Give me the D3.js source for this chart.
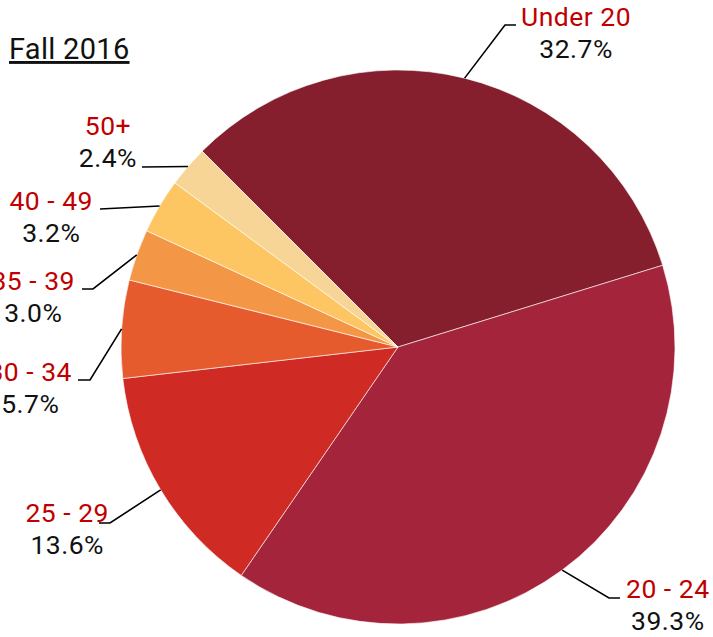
<!DOCTYPE html>
<html>
<head>
<meta charset="utf-8">
<script src="https://cdn.jsdelivr.net/npm/d3@7"></script>
<style>
  body { margin: 0; background: #fff; }
  svg { display: block; font-family: Roboto, "Liberation Sans", sans-serif; }
</style>
</head>
<body>
<div id="chart"></div>
<script>

// data
var ageGroups = ['Under 20', '20 - 24', '25 - 29', '30 - 34', '35 - 39', '40 - 49', '50+']
var shares = [32.7, 39.3, 13.6, 5.7, 3.0, 3.2, 2.4]
var sliceColors = ['#851f2e', '#a4243b', '#cf2a24', '#e65b2e', '#f39646', '#fec663', '#f7d596']

// label placement (layout only): elbow point, line end, text edge, label baseline
var labelLayout = [
  { elbow: [505, 25], end: [516, 25], textX: 521, base: 26, side: 'right' },
  { elbow: [609, 598], end: [620, 598], textX: 626, base: 598, side: 'right' },
  { elbow: [110, 523], end: [99, 523], textX: 109, base: 522, side: 'left' },
  { elbow: [90, 380], end: [78, 380], textX: 72, base: 381, side: 'left' },
  { elbow: [93, 289], end: [82, 289], textX: 75, base: 290, side: 'left' },
  { elbow: [100, 209], end: [100, 209], textX: 93, base: 210, side: 'left' },
  { elbow: [142, 167], end: [142, 167], textX: 137, base: 135, side: 'left' }
]

var width = 713
var height = 637
var cx = 398
var cy = 347
var radius = 277

var svg = d3.select('#chart')
  .append('svg')
  .attr('width', width)
  .attr('height', height)

// title
svg.append('text')
  .attr('x', 9)
  .attr('y', 59)
  .attr('font-size', 29)
  .attr('letter-spacing', 0.3)
  .attr('fill', '#111')
  .attr('text-decoration', 'underline')
  .text('Fall 2016')

var pie = d3.pie()
  .sort(null)
  .startAngle(-Math.PI / 4)
  .endAngle(2 * Math.PI - Math.PI / 4)
  .value(function(d) { return d })

var arcs = pie(shares)

var arc = d3.arc().innerRadius(0).outerRadius(radius)
var edge = d3.arc().innerRadius(radius).outerRadius(radius)

var g = svg.append('g')
  .attr('transform', 'translate(' + cx + ',' + cy + ')')

g.selectAll('path.slice')
  .data(arcs)
  .enter()
  .append('path')
  .attr('class', 'slice')
  .attr('d', arc)
  .attr('fill', function(d, i) { return sliceColors[i] })
  .attr('stroke', '#fff')
  .attr('stroke-width', 0.6)

// leader lines
svg.selectAll('polyline.leader')
  .data(arcs)
  .enter()
  .append('polyline')
  .attr('class', 'leader')
  .attr('fill', 'none')
  .attr('stroke', '#000')
  .attr('stroke-width', 1.6)
  .attr('points', function(d, i) {
    var c = edge.centroid(d)
    var l = labelLayout[i]
    return [[c[0] + cx, c[1] + cy], l.elbow, l.end].join(' ')
  })

// labels
arcs.forEach(function(d, i) {
  var l = labelLayout[i]
  var t = svg.append('g')
  var name = t.append('text')
    .attr('y', l.base)
    .attr('font-size', 26.5)
    .attr('letter-spacing', 0.5)
    .attr('fill', '#c00000')
    .attr('text-anchor', 'middle')
    .text(ageGroups[i])
  var pct = t.append('text')
    .attr('y', l.base + 32)
    .attr('font-size', 26.5)
    .attr('letter-spacing', 0.5)
    .attr('fill', '#111')
    .attr('text-anchor', 'middle')
    .text(d3.format('.1f')(shares[i]) + '%')
  var w = Math.max(name.node().getComputedTextLength(), pct.node().getComputedTextLength())
  var mid = l.side == 'right' ? l.textX + w / 2 : l.textX - w / 2
  name.attr('x', mid)
  pct.attr('x', mid)
})

</script>
</body>
</html>
